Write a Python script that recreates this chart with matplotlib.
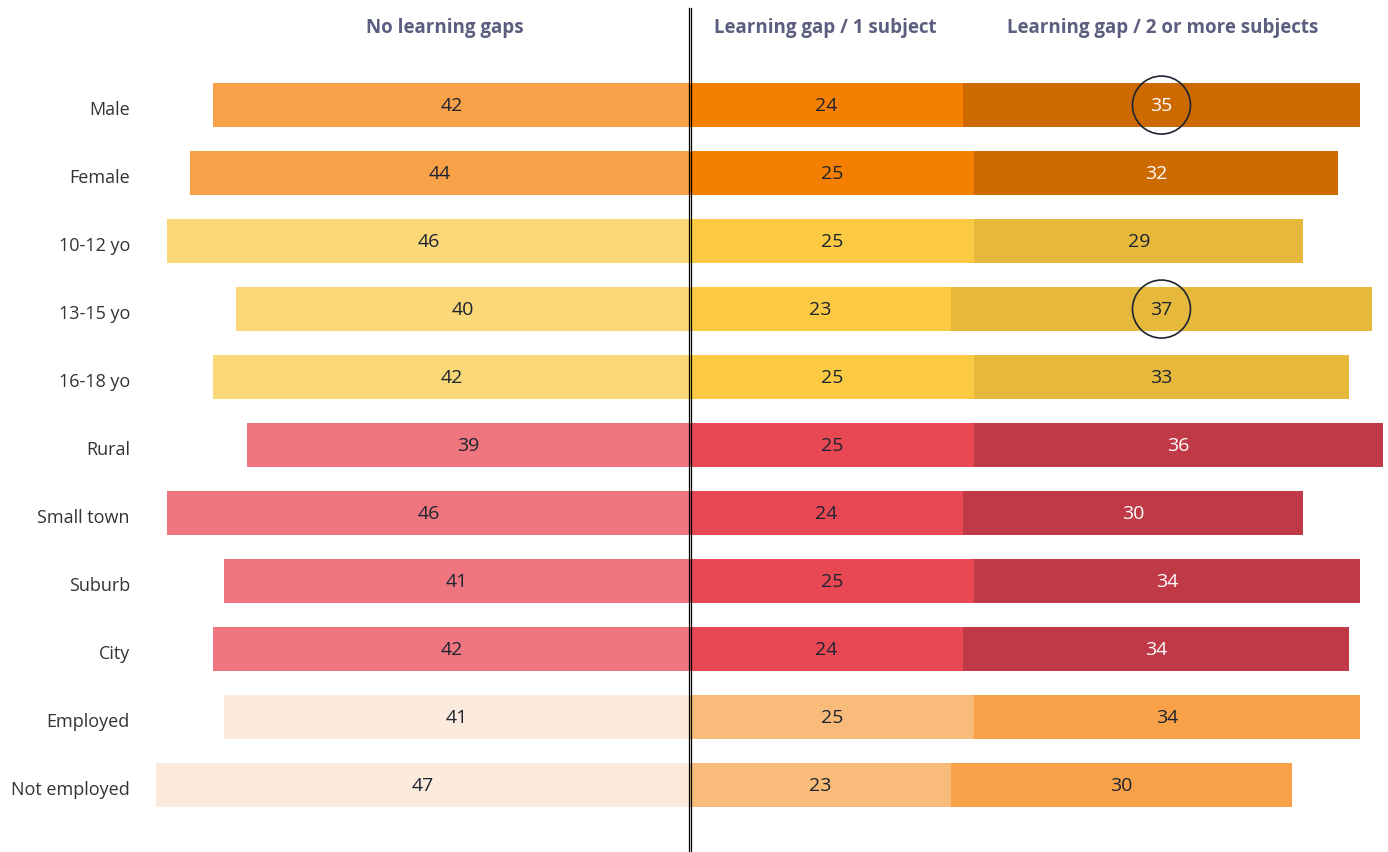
import matplotlib.pyplot as plt
from matplotlib.patches import Ellipse

plt.rcParams['font.family'] = ['Open Sans', 'DejaVu Sans']

groups = ["Male", "Female", "10-12 yo", "13-15 yo", "16-18 yo", "Rural",
          "Small town", "Suburb", "City", "Employed", "Not employed"]
no_gap = [42, 44, 46, 40, 42, 39, 46, 41, 42, 41, 47]
gap_one = [24, 25, 25, 23, 25, 25, 24, 25, 24, 25, 23]
gap_two = [35, 32, 29, 37, 33, 36, 30, 34, 34, 34, 30]
headers = ["No learning gaps", "Learning gap / 1 subject",
           "Learning gap / 2 or more subjects"]
highlight = ["Male", "13-15 yo"]

# colours per block of rows: (left, middle, right, text colour on right)
palette = {
    "gender": ("#F9A148", "#F57F00", "#CC6A00", "white"),
    "age": ("#FAD877", "#FCC942", "#E6B93D", "#1d2430"),
    "place": ("#EF767F", "#E84754", "#BF3A46", "white"),
    "work": ("#FCEBDD", "#F9BB79", "#F9A148", "#1d2430"),
}
block = ["gender"] * 2 + ["age"] * 3 + ["place"] * 4 + ["work"] * 2

fig = plt.figure(figsize=(13.88, 8.53), dpi=100)
ax = fig.add_axes([0, 0, 1, 1])
ax.set_xlim(-60.74, 61.44)
ax.set_ylim(10.985, -1.56)
ax.axis("off")

dark = "#1d2430"
h = 0.64
for i, g in enumerate(groups):
    c_left, c_mid, c_right, c_txt = palette[block[i]]
    ax.barh(i, -no_gap[i], height=h, color=c_left)
    ax.barh(i, gap_one[i], height=h, color=c_mid)
    ax.barh(i, gap_two[i], left=gap_one[i], height=h, color=c_right)
    ax.text(-no_gap[i] / 2, i, str(no_gap[i]), ha="center", va="center",
            fontsize=14, color=dark)
    ax.text(gap_one[i] / 2, i, str(gap_one[i]), ha="center", va="center",
            fontsize=14, color=dark)
    xr = gap_one[i] + gap_two[i] / 2
    ax.text(xr, i, str(gap_two[i]), ha="center", va="center",
            fontsize=14, color=c_txt)
    ax.text(-49.3, i + 0.06, g, ha="right", va="center", fontsize=13,
            color="#333333")
    if g in highlight:
        ax.add_patch(Ellipse((xr, i), 58 / 11.36, 58 / 68, fill=False,
                             edgecolor=dark, lw=1.2))

# double centre line
for dx in (-0.1, 0.1):
    ax.plot([dx, dx], [-1.43, 11.0], color="black", lw=0.9)

head_x = [-21.6, 11.9, 41.6]
for x, t in zip(head_x, headers):
    ax.text(x, -1.15, t, ha="center", va="center", fontsize=13.5,
            fontweight="bold", color="#5B5E7E")

fig.savefig("out.png", dpi=100)
